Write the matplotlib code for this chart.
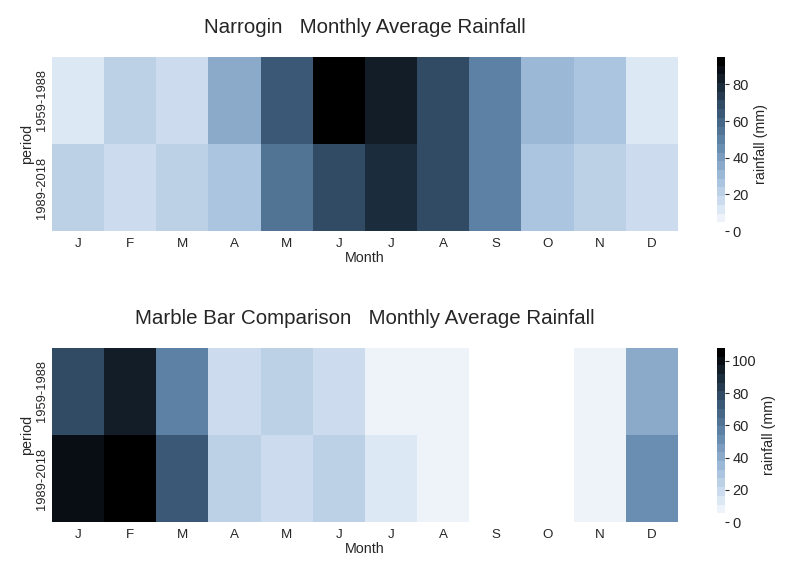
import numpy as np
import matplotlib
matplotlib.use("Agg")
import matplotlib.pyplot as plt
import seaborn as sns
from matplotlib.colors import LinearSegmentedColormap, ListedColormap
from matplotlib.ticker import MultipleLocator

months = ["J", "F", "M", "A", "M", "J", "J", "A", "S", "O", "N", "D"]
periods = ["1959-1988", "1989-2018"]

narrogin_1959_1988 = [12, 21, 17, 37, 64, 95, 84, 71, 52, 33, 27, 12]
narrogin_1989_2018 = [21, 17, 20, 27, 53, 70, 79, 71, 52, 27, 21, 17]

marble_1959_1988 = [80, 96, 56, 18, 23, 18, 8, 7, 2, 2, 7, 41]
marble_1989_2018 = [100, 108, 72, 23, 17, 23, 13, 7, 2, 2, 7, 53]

titles = ["Narrogin   Monthly Average Rainfall",
          "Marble Bar Comparison   Monthly Average Rainfall"]

sns.set_style("white")
plt.rcParams['font.family'] = ['Liberation Sans', 'DejaVu Sans']
plt.rcParams['text.color'] = '#262626'
plt.rcParams['axes.labelcolor'] = '#262626'
plt.rcParams['xtick.color'] = '#262626'
plt.rcParams['ytick.color'] = '#262626'

anchors = [(0.0, '#ffffff'), (0.1, '#dde8f4'), (0.3, '#a0bcda'),
           (0.5, '#6287ab'), (0.7, '#385672'), (0.85, '#1a2a3a'), (1.0, '#000000')]
base = LinearSegmentedColormap.from_list('rain', anchors)
cmap = ListedColormap(base(np.linspace(0, 1, 20)))

fig = plt.figure(figsize=(8, 5.71), dpi=100)

def draw(ax_rect, cax_rect, rows, title):
    ax = fig.add_axes(ax_rect)
    cax = fig.add_axes(cax_rect)
    data = np.array(rows, dtype=float)
    sns.heatmap(data, ax=ax, cbar_ax=cax, cmap=cmap, vmin=0, vmax=data.max(),
                xticklabels=months, yticklabels=periods,
                cbar_kws={'label': 'rainfall (mm)', 'ticks': MultipleLocator(20)})
    ax.set_title(title, fontsize=14.8, pad=17)
    ax.set_xlabel("Month", fontsize=10.3, labelpad=1)
    ax.set_ylabel("period", fontsize=10.3, labelpad=1)
    ax.tick_params(axis='x', labelsize=9.6, length=0, pad=5)
    ax.tick_params(axis='y', labelsize=9.3, length=0, pad=3)
    for lab in ax.get_yticklabels():
        lab.set_rotation(90)
        lab.set_va('center')
    cax.yaxis.set_major_locator(MultipleLocator(20))
    cax.tick_params(labelsize=10.5, length=3, width=0.8, color='#262626', pad=2, right=True)
    cax.yaxis.label.set_size(10.3)
    return ax, cax

draw([0.065, 0.5954, 0.7825, 0.305], [0.896, 0.5954, 0.0105, 0.305],
     [narrogin_1959_1988, narrogin_1989_2018], titles[0])
draw([0.065, 0.0858, 0.7825, 0.305], [0.896, 0.0858, 0.0105, 0.305],
     [marble_1959_1988, marble_1989_2018], titles[1])

fig.savefig("out.png", dpi=100)
